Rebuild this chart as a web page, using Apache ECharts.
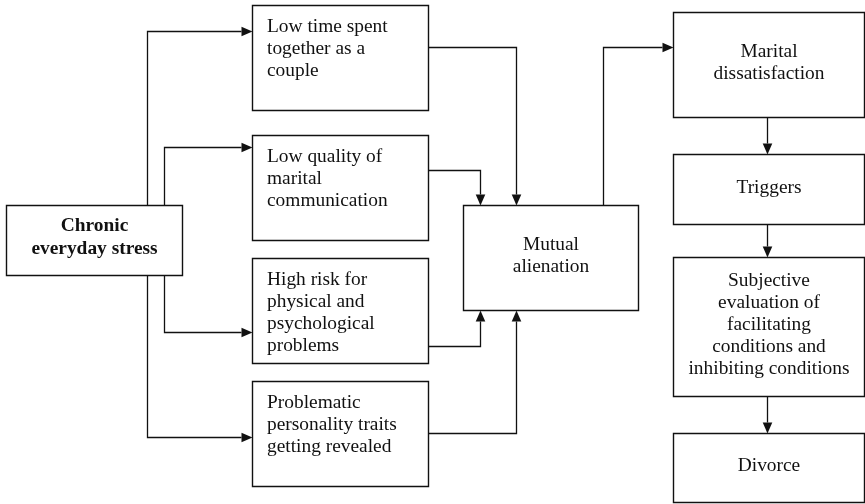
<!DOCTYPE html>
<html>
<head>
<meta charset="utf-8">
<script src="https://cdn.jsdelivr.net/npm/echarts@6/dist/echarts.min.js"></script>
<style>html,body{margin:0;padding:0;background:#fff}#c{width:865px;height:504px}</style>
</head>
<body>
<div id="c"></div>
<script>
// Diagram content
const nodeTexts = [
  'Chronic\neveryday stress',
  'Low time spent\ntogether as a\ncouple',
  'Low quality of\nmarital\ncommunication',
  'High risk for\nphysical and\npsychological\nproblems',
  'Problematic\npersonality traits\ngetting revealed',
  'Mutual\nalienation',
  'Marital\ndissatisfaction',
  'Triggers',
  'Subjective\nevaluation of\nfacilitating\nconditions and\ninhibiting conditions',
  'Divorce'
];
// box extents in diagram units [left, top, right, bottom]
const nodeBoxes = [
  [6, 205, 182, 275],
  [252, 5, 428, 110],
  [252, 135, 428, 240],
  [252, 258, 428, 363],
  [252, 381, 428, 486],
  [463, 205, 638, 310],
  [673, 12, 864, 117],
  [673, 154, 864, 224],
  [673, 257, 864, 396],
  [673, 433, 864, 502]
];
const nodeKinds = ['bold', 'left', 'left', 'left', 'left', 'center', 'center', 'center', 'center', 'center'];
// connectors: waypoint lists, arrow at the last point
const edges = [
  [[147, 205], [147, 31], [252, 31]],
  [[164, 205], [164, 147], [252, 147]],
  [[164, 275], [164, 332], [252, 332]],
  [[147, 275], [147, 437], [252, 437]],
  [[428, 47], [516, 47], [516, 205]],
  [[428, 170], [480, 170], [480, 205]],
  [[428, 346], [480, 346], [480, 310]],
  [[428, 433], [516, 433], [516, 310]],
  [[603, 205], [603, 47], [673, 47]],
  [[767, 117], [767, 154]],
  [[767, 224], [767, 257]],
  [[767, 396], [767, 433]]
];

const FONT = '"Liberation Serif", "DejaVu Serif", serif';
const FS = 19.4;
const INK = '#111';
const chart = echarts.init(document.getElementById('c'), null, {renderer: 'canvas'});

function crisp(v) { return Math.round(v - 0.5) + 0.5; }

chart.setOption({
  animation: false,
  backgroundColor: '#fff',
  grid: {left: 0, right: 0, top: 0, bottom: 0},
  xAxis: {type: 'value', min: 0, max: 865, show: false},
  yAxis: {type: 'value', min: 0, max: 504, inverse: true, show: false},
  series: [
    {
      type: 'custom',
      coordinateSystem: 'cartesian2d',
      data: edges.map((e, i) => [i]),
      renderItem: function (params, api) {
        const pts = edges[api.value(0)].map(p => {
          const c = api.coord(p);
          return [crisp(c[0]), crisp(c[1])];
        });
        const n = pts.length;
        const tip = pts[n - 1], prev = pts[n - 2];
        const dx = tip[0] - prev[0], dy = tip[1] - prev[1];
        const len = Math.hypot(dx, dy);
        const ux = dx / len, uy = dy / len;
        const L = 11, W = 4.8;
        const base = [tip[0] - ux * L, tip[1] - uy * L];
        const line = pts.slice(0, n - 1).concat([base]);
        return {
          type: 'group',
          children: [
            {type: 'polyline', shape: {points: line}, style: {stroke: INK, lineWidth: 1.3, fill: null}},
            {type: 'polygon', shape: {points: [tip, [base[0] - uy * W, base[1] + ux * W], [base[0] + uy * W, base[1] - ux * W]]}, style: {fill: INK, stroke: null}}
          ]
        };
      }
    },
    {
      type: 'custom',
      coordinateSystem: 'cartesian2d',
      data: nodeBoxes.map(b => b.slice()),
      renderItem: function (params, api) {
        const i = params.dataIndex;
        const p0 = api.coord([api.value(0), api.value(1)]);
        const p1 = api.coord([api.value(2), api.value(3)]);
        const kind = nodeKinds[i];
        const x0 = crisp(p0[0]), y0 = crisp(p0[1]), x1 = crisp(p1[0]), y1 = crisp(p1[1]);
        let textEl;
        if (kind === 'left') {
          textEl = {type: 'text', style: {text: nodeTexts[i], x: x0 + 14.5, y: y0 + 10, fill: INK,
            fontSize: FS, fontFamily: FONT, lineHeight: 22, align: 'left', verticalAlign: 'top'}};
        } else {
          const bold = kind === 'bold';
          textEl = {type: 'text', style: {text: nodeTexts[i], x: (x0 + x1) / 2, y: (y0 + y1) / 2 - (bold ? 3 : 2), fill: INK,
            fontSize: FS, fontFamily: FONT, fontWeight: bold ? 'bold' : 'normal', lineHeight: bold ? 23 : 22,
            align: 'center', verticalAlign: 'middle'}};
        }
        return {
          type: 'group',
          children: [
            {type: 'rect', shape: {x: x0, y: y0, width: x1 - x0, height: y1 - y0}, style: {fill: '#fff', stroke: INK, lineWidth: 1.4}},
            textEl
          ]
        };
      }
    }
  ]
});
</script>
</body>
</html>
